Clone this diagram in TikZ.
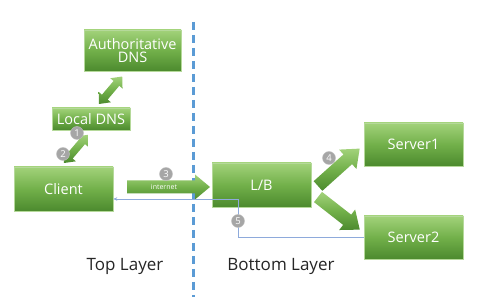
\documentclass[tikz,border=0pt]{standalone}
\usepackage{fontspec}
\setmainfont{Open Sans}
\usetikzlibrary{arrows.meta}
\definecolor{gtop}{HTML}{A2D27A}
\definecolor{gmid}{HTML}{72B04A}
\definecolor{gbot}{HTML}{4C8A2E}
\definecolor{gedge}{HTML}{B5D99A}
\definecolor{dashblue}{HTML}{5B9BD5}
\definecolor{retblue}{HTML}{8EAADB}
\definecolor{numgray}{HTML}{A6A6A6}
\tikzset{
  box/.style={draw=gedge, line width=0.6pt, top color=gtop, bottom color=gbot, middle color=gmid,
    text=white, font=\fontsize{14.5}{16}\selectfont, align=center, inner sep=0pt},
  num/.style={circle, fill=numgray, draw=numgray!70, line width=0.4pt, text=white, minimum size=13pt, inner sep=0pt,
    font=\fontsize{9.5}{9.5}\selectfont},
  blk/.style={top color=gtop, bottom color=gbot, middle color=gmid, draw=none},
  ret/.style={draw=retblue, line width=0.9pt},
  layer/.style={font=\fontsize{17}{20}\selectfont, text=black!85}
}
\newcommand\grsarrow[7]{% x y angle L shaft head hl
  \begin{scope}[shift={(#1,#2)}, rotate=#3]
    \shade[blk] (0,-#5/2) -- (#4-#7,-#5/2) -- (#4-#7,-#6/2) -- (#4,0) -- (#4-#7,#6/2) -- (#4-#7,#5/2) -- (0,#5/2) -- cycle;
  \end{scope}}
\newcommand\grdarrow[7]{%
  \begin{scope}[shift={(#1,#2)}, rotate=#3]
    \shade[blk] (0,0) -- (#7,#6/2) -- (#7,#5/2) -- (#4-#7,#5/2) -- (#4-#7,#6/2) -- (#4,0) -- (#4-#7,-#6/2) -- (#4-#7,-#5/2) -- (#7,-#5/2) -- (#7,-#6/2) -- cycle;
  \end{scope}}
\begin{document}
\begin{tikzpicture}[x=1pt, y=-1pt]
\useasboundingbox[fill=white] (0,0) rectangle (480,307);
% dashed divider
\draw[dashblue, line width=3pt, dash pattern=on 8pt off 5pt] (193,22) -- (193,297);
% boxes
\node[box, minimum width=97pt, minimum height=41pt] (auth) at (132.5,50.5) {Authoritative\\[-3pt]DNS};
\node[box, minimum width=78pt, minimum height=22pt] (local) at (91,119) {Local DNS};
\node[box, minimum width=99pt, minimum height=44pt] (client) at (63.5,189) {Client};
\node[box, minimum width=99pt, minimum height=44pt] (lb) at (261.5,185) {L/B};
\node[box, minimum width=99pt, minimum height=43pt] (s1) at (413.5,144.5) {Server1};
\node[box, minimum width=99pt, minimum height=43pt] (s2) at (413.5,237.5) {Server2};
% block arrows
\grdarrow{99}{104}{49.8}{36}{7.5}{16}{9}
\grdarrow{64}{163}{49.6}{37}{7.5}{16}{9}
\grsarrow{127}{187}{0}{83}{13}{25}{15}
\grsarrow{318}{186}{41.9}{56}{13}{26}{16}
\grsarrow{318}{197}{-38}{53}{13}{26}{16}
\node[text=white, font=\fontsize{7}{7}\selectfont] (inet) at (164,187) {internet};
% return path
\coordinate (c1) at (238,237.5);
\coordinate (c2) at (238,199);
\draw[ret, -{Stealth[length=4pt,width=3.5pt]}] (s2.west) -- (c1) -- (c2) -- (client.east |- c2);
% numbers
\node[num] (n1) at (77,133) {1};
\node[num] (n2) at (63,154) {2};
\node[num] (n3) at (166,174) {3};
\node[num] (n4) at (329,158) {4};
\node[num] (n5) at (238,221) {5};
% layer labels
\node[layer] (top) at (125,266) {Top Layer};
\node[layer] (bottom) at (281,266) {Bottom Layer};
\end{tikzpicture}
\end{document}
